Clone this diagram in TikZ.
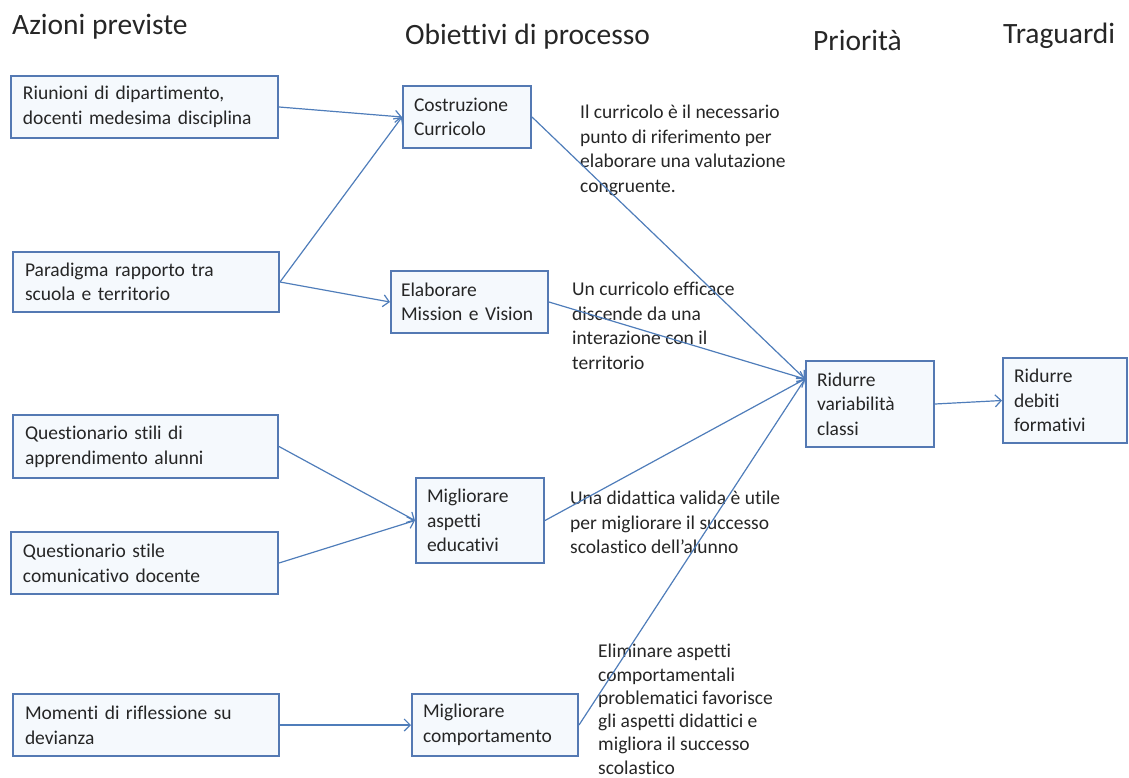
\documentclass[tikz,border=0pt]{standalone}
\usepackage{fontspec}
\setmainfont{Carlito}[Ligatures={NoCommon}]
\usetikzlibrary{arrows.meta}
\definecolor{boxc}{HTML}{5479B3}
\definecolor{boxfill}{HTML}{F5F9FD}
\definecolor{arrc}{HTML}{4F7DBA}
\definecolor{txtc}{HTML}{262626}
\newcommand{\boxfont}{\fontsize{19.5}{24.6}\selectfont}
\newcommand{\tightfont}{\fontsize{19.5}{23.3}\selectfont}
\newcommand{\headfont}{\fontsize{29.5}{34}\selectfont}
\tikzset{
  stepbox/.style={draw=boxc, line width=2pt, fill=boxfill, anchor=north west,
    inner xsep=12pt, inner ysep=0pt, align=left, font=\boxfont, text=txtc},
  note/.style={anchor=north west, inner sep=0pt, align=left, font=\boxfont, text=txtc},
  head/.style={anchor=base west, inner sep=0pt, font=\headfont, text=txtc},
  conn/.style={draw=arrc, line width=1.2pt, -{Straight Barb[length=6pt,width=12pt]}}
}
\begin{document}
\begin{tikzpicture}[x=1pt,y=-1pt]
\useasboundingbox (0,0) rectangle (1129,778);
% headers
\node[head] (h1) at (12,35) {Azioni previste};
\node[head] (h2) at (405,45) {Obiettivi di processo};
\node[head] (h3) at (813,51) {Priorità};
\node[head] (h4) at (1003,44) {Traguardi};
% action boxes
\node[stepbox, minimum width=267pt, minimum height=62pt, text width=243pt] (a1) at (10,75) {Riunioni di dipartimento,\\docenti medesima disciplina};
\node[stepbox, minimum width=266pt, minimum height=60pt, text width=242pt] (a2) at (12,251) {Paradigma rapporto tra\\scuola e territorio};
\node[stepbox, minimum width=265pt, minimum height=63pt, text width=241pt] (a3) at (12,414) {Questionario stili di\\apprendimento alunni};
\node[stepbox, minimum width=267pt, minimum height=62pt, text width=243pt] (a4) at (10,531) {Questionario stile\\comunicativo docente};
\node[stepbox, minimum width=266pt, minimum height=62pt, text width=242pt] (a5) at (12,693) {Momenti di riflessione su\\devianza};
% objectives
\node[stepbox, minimum width=128pt, minimum height=62pt, text width=106pt, inner xsep=11pt] (o1) at (402,85) {Costruzione\\Curricolo};
\node[stepbox, minimum width=157pt, minimum height=62pt, text width=137pt, inner xsep=10pt] (o2) at (390,270) {Elaborare\\Mission e Vision};
\node[stepbox, minimum width=128pt, minimum height=85pt, text width=106pt, inner xsep=11pt] (o3) at (415,477) {Migliorare\\aspetti\\educativi};
\node[stepbox, minimum width=166pt, minimum height=62pt, text width=144pt, inner xsep=11pt] (o4) at (411,693) {Migliorare\\comportamento};
% priority and goal
\node[stepbox, minimum width=128pt, minimum height=86pt, text width=106pt, inner xsep=11pt] (p) at (805,360) {Ridurre\\variabilità\\classi};
\node[stepbox, minimum width=124pt, minimum height=85pt, text width=102pt, inner xsep=11pt] (t) at (1002,357) {Ridurre\\debiti\\formativi};
% notes
\node[note] (n1) at (580,105) {Il curricolo è il necessario\\punto di riferimento per\\elaborare una valutazione\\congruente.};
\node[note] (n2) at (572,282) {Un curricolo efficace\\discende da una\\interazione con il\\territorio};
\node[note] (n3) at (570,491) {Una didattica valida è utile\\per migliorare il successo\\scolastico dell’alunno};
\node[note, font=\tightfont] (n4) at (598,644) {Eliminare aspetti\\comportamentali\\problematici favorisce\\gli aspetti didattici e\\migliora il successo\\scolastico};
% connectors
\coordinate (pin) at ([yshift=25pt]p.west);
\draw[conn] (a1.east) -- (o1.west);
\draw[conn] (a2.east) -- (o1.west);
\draw[conn] (a2.east) -- (o2.west);
\draw[conn] (a3.east) -- (o3.west);
\draw[conn] (a4.east) -- (o3.west);
\draw[conn] (a5.east) -- (o4.west);
\draw[conn] (o1.east) -- (pin);
\draw[conn] (o2.east) -- (pin);
\draw[conn] (o3.east) -- (pin);
\draw[conn] (o4.east) -- (pin);
\draw[conn] (p.east) -- (t.west);
\end{tikzpicture}
\end{document}
